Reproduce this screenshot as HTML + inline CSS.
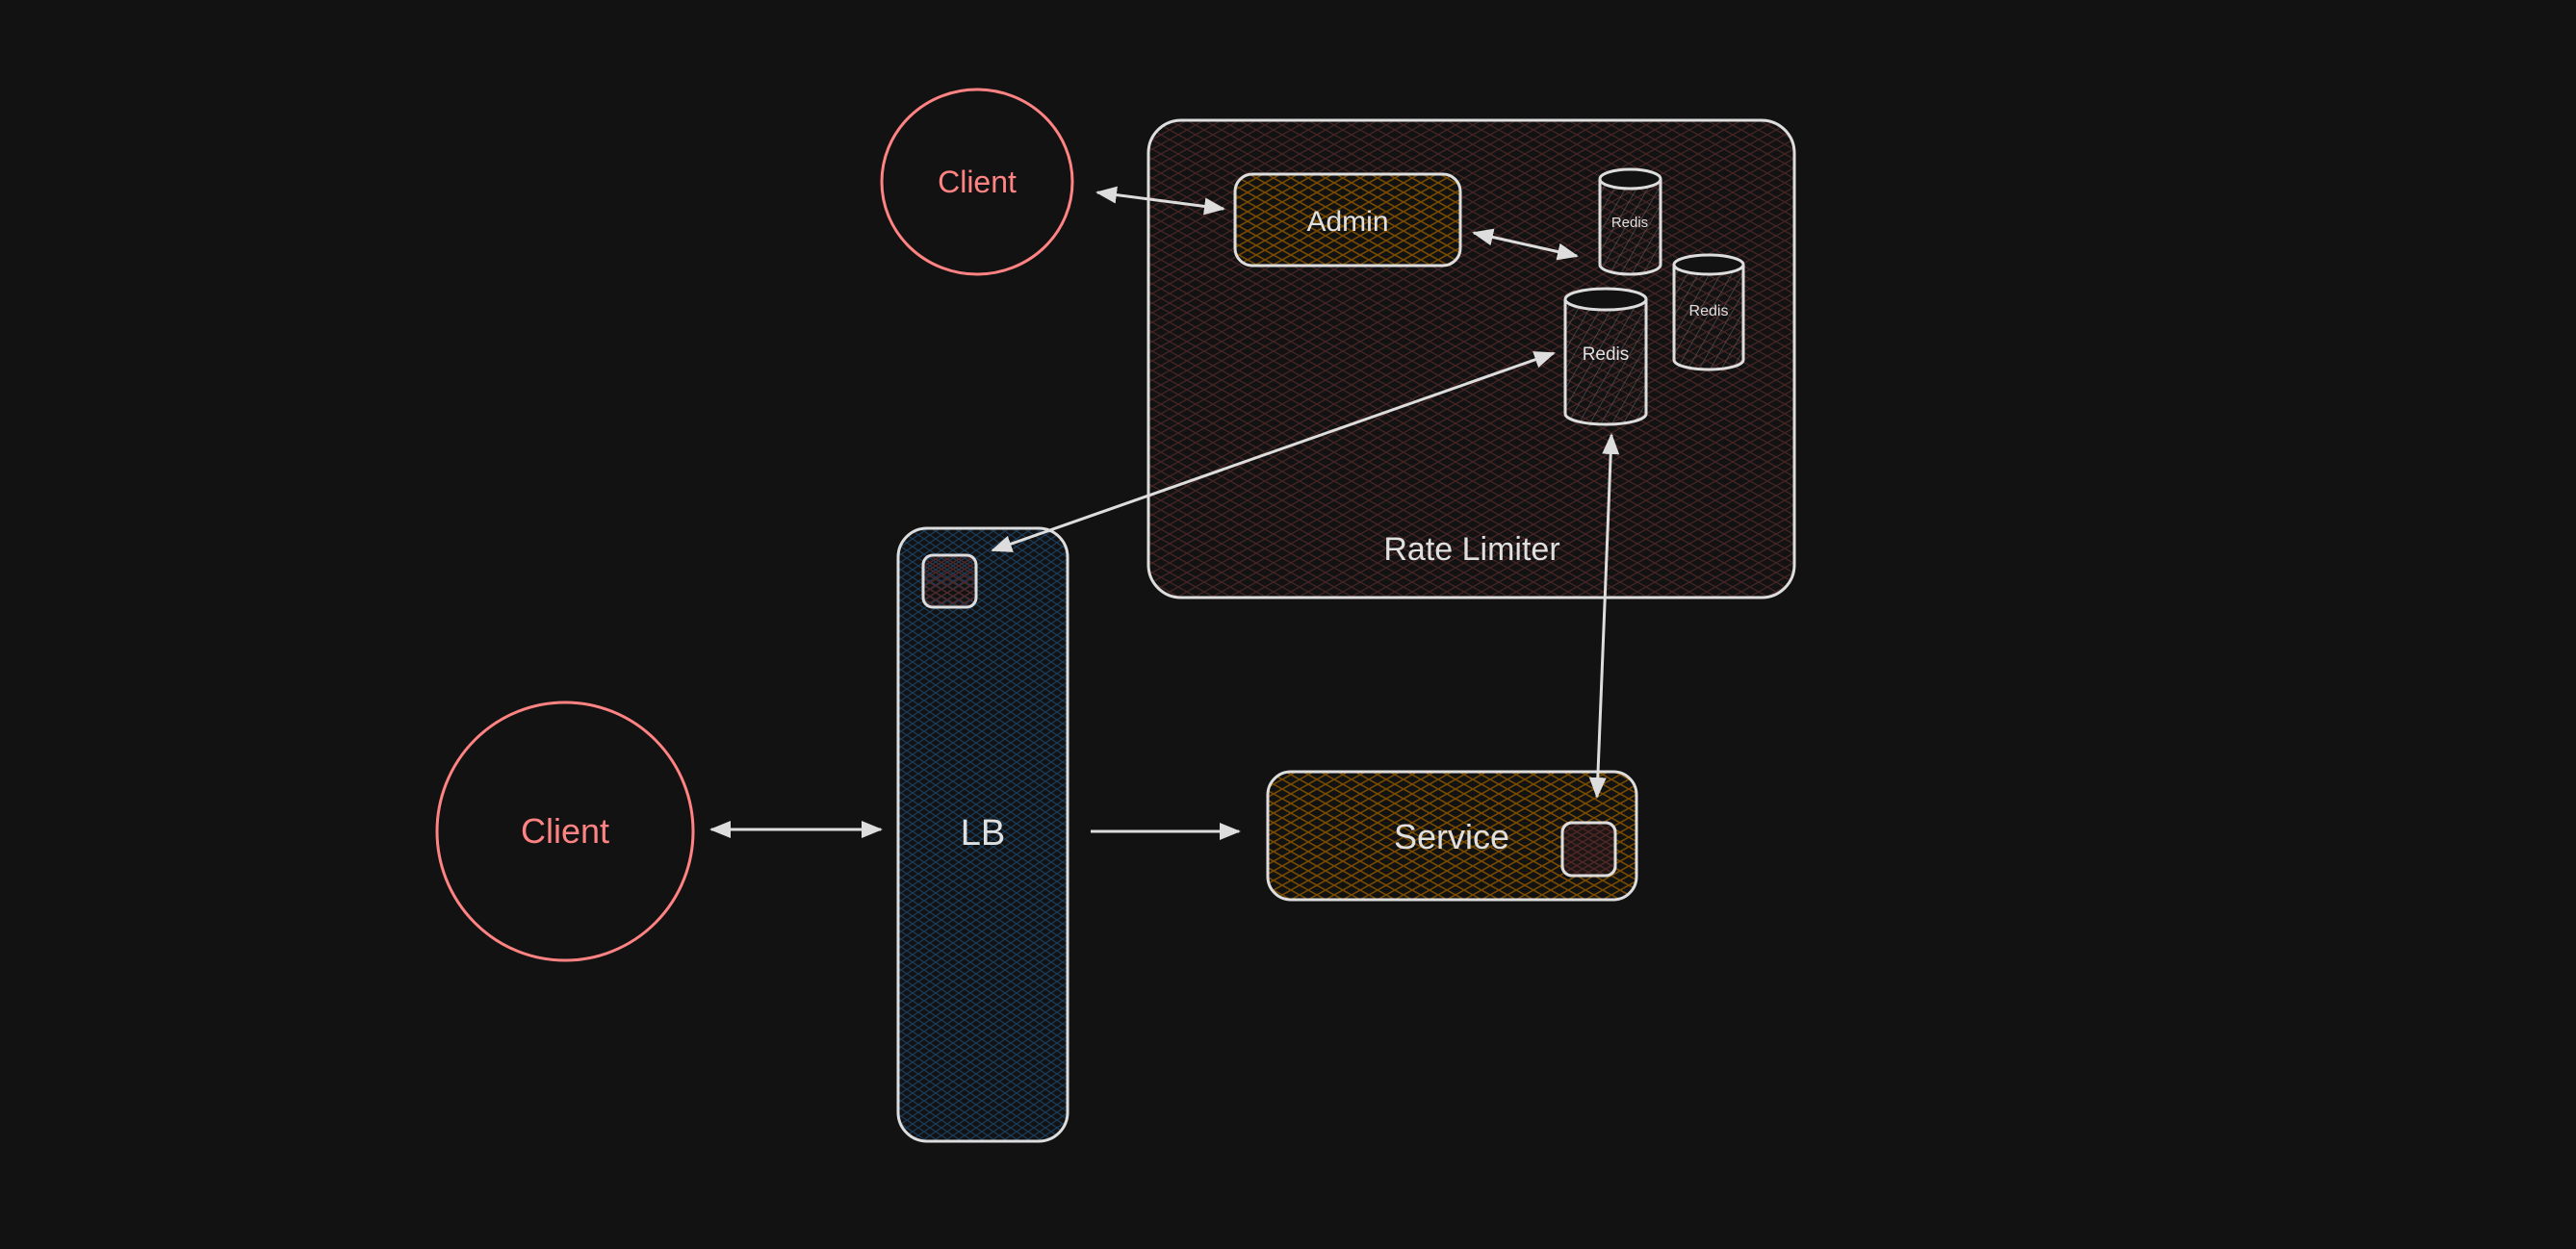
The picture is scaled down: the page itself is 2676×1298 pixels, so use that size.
<!DOCTYPE html>
<html><head><meta charset="utf-8"><style>
html,body{margin:0;padding:0;background:#121212;}
svg{display:block}
text{font-family:"Liberation Sans",sans-serif;}
</style></head><body>
<svg width="2676" height="1298" viewBox="0 0 2676 1298" xmlns="http://www.w3.org/2000/svg">
<defs>
<pattern id="hr" width="18" height="10" patternUnits="userSpaceOnUse"><path d="M0 0L18 10M18 0L0 10" stroke="#452424" stroke-width="1.3" fill="none"/></pattern>
<pattern id="hr2" width="12" height="7" patternUnits="userSpaceOnUse"><path d="M0 0L12 7M12 0L0 7" stroke="#502828" stroke-width="1.3" fill="none"/></pattern>
<pattern id="ho" width="18" height="10" patternUnits="userSpaceOnUse"><path d="M0 0L18 10M18 0L0 10" stroke="#774a00" stroke-width="1.6" fill="none"/></pattern>
<pattern id="hb" width="12" height="8" patternUnits="userSpaceOnUse"><path d="M0 0L12 8M12 0L0 8" stroke="#1a3b5a" stroke-width="1.3" fill="none"/></pattern>
<pattern id="hg" width="10" height="10" patternUnits="userSpaceOnUse" patternTransform="rotate(30)"><path d="M0 0V10" stroke="#555" stroke-width="1.3" fill="none"/></pattern>
<marker id="a" markerWidth="22" markerHeight="22" refX="20" refY="11" orient="auto-start-reverse" markerUnits="userSpaceOnUse" viewBox="0 0 22 22"><path d="M0 2L22 11L0 20Z" fill="#ddd"/></marker>
</defs>
<rect width="2676" height="1298" fill="#121212"/>

<rect x="1193" y="125" width="671" height="496" rx="34" fill="url(#hr)" stroke="#ddd" stroke-width="3"/>
<text x="1529" y="582" font-size="34" fill="#e0e0e0" text-anchor="middle">Rate Limiter</text>

<rect x="1283" y="181" width="234" height="95" rx="18" fill="url(#ho)" stroke="#ddd" stroke-width="3"/>
<text x="1400" y="240" font-size="30" fill="#e0e0e0" text-anchor="middle">Admin</text>

<g stroke="#ddd" stroke-width="3">
<path d="M1662 186V275A31.5 10 0 0 0 1725 275V186" fill="url(#hg)"/>
<ellipse cx="1693.5" cy="186" rx="31.5" ry="10" fill="#121212"/>
<path d="M1739 275V374A36 10 0 0 0 1811 374V275" fill="url(#hg)"/>
<ellipse cx="1775" cy="275" rx="36" ry="10" fill="#121212"/>
<path d="M1626 311V430A42 11 0 0 0 1710 430V311" fill="url(#hg)"/>
<ellipse cx="1668" cy="311" rx="42" ry="11" fill="#121212"/>
</g>
<text x="1693" y="236" font-size="15" fill="#e0e0e0" text-anchor="middle">Redis</text>
<text x="1775" y="328" font-size="16" fill="#e0e0e0" text-anchor="middle">Redis</text>
<text x="1668" y="374" font-size="19" fill="#e0e0e0" text-anchor="middle">Redis</text>

<ellipse cx="1015" cy="189" rx="99" ry="96" fill="none" stroke="#ff8383" stroke-width="3"/>
<text x="1015" y="200" font-size="32" fill="#ff8383" text-anchor="middle">Client</text>
<ellipse cx="587" cy="864" rx="133" ry="134" fill="none" stroke="#ff8383" stroke-width="3"/>
<text x="587" y="876" font-size="36" fill="#ff8383" text-anchor="middle">Client</text>

<rect x="933" y="549" width="176" height="637" rx="30" fill="url(#hb)" stroke="#ddd" stroke-width="3"/>
<rect x="959" y="577" width="55" height="54" rx="10" fill="url(#hr2)" stroke="#ddd" stroke-width="3"/>
<text x="1021" y="878" font-size="38" fill="#e0e0e0" text-anchor="middle">LB</text>

<rect x="1317" y="802" width="383" height="133" rx="24" fill="url(#ho)" stroke="#ddd" stroke-width="3"/>
<rect x="1623" y="855" width="55" height="55" rx="10" fill="#1e1614" stroke="#ddd" stroke-width="3"/>
<rect x="1623" y="855" width="55" height="55" rx="10" fill="url(#hr2)" stroke="#ddd" stroke-width="3"/>
<text x="1508" y="882" font-size="36" fill="#e0e0e0" text-anchor="middle">Service</text>

<g stroke="#ddd" stroke-width="3" fill="none">
<line x1="1140" y1="200" x2="1271" y2="217" marker-start="url(#a)" marker-end="url(#a)"/>
<line x1="1531" y1="242" x2="1638" y2="266" marker-start="url(#a)" marker-end="url(#a)"/>
<line x1="1031" y1="572" x2="1614" y2="367" marker-start="url(#a)" marker-end="url(#a)"/>
<line x1="1674" y1="452" x2="1659" y2="828" marker-start="url(#a)" marker-end="url(#a)"/>
<line x1="739" y1="862" x2="915" y2="862" marker-start="url(#a)" marker-end="url(#a)"/>
<line x1="1133" y1="864" x2="1287" y2="864" marker-end="url(#a)"/>
</g>
</svg>
</body></html>
